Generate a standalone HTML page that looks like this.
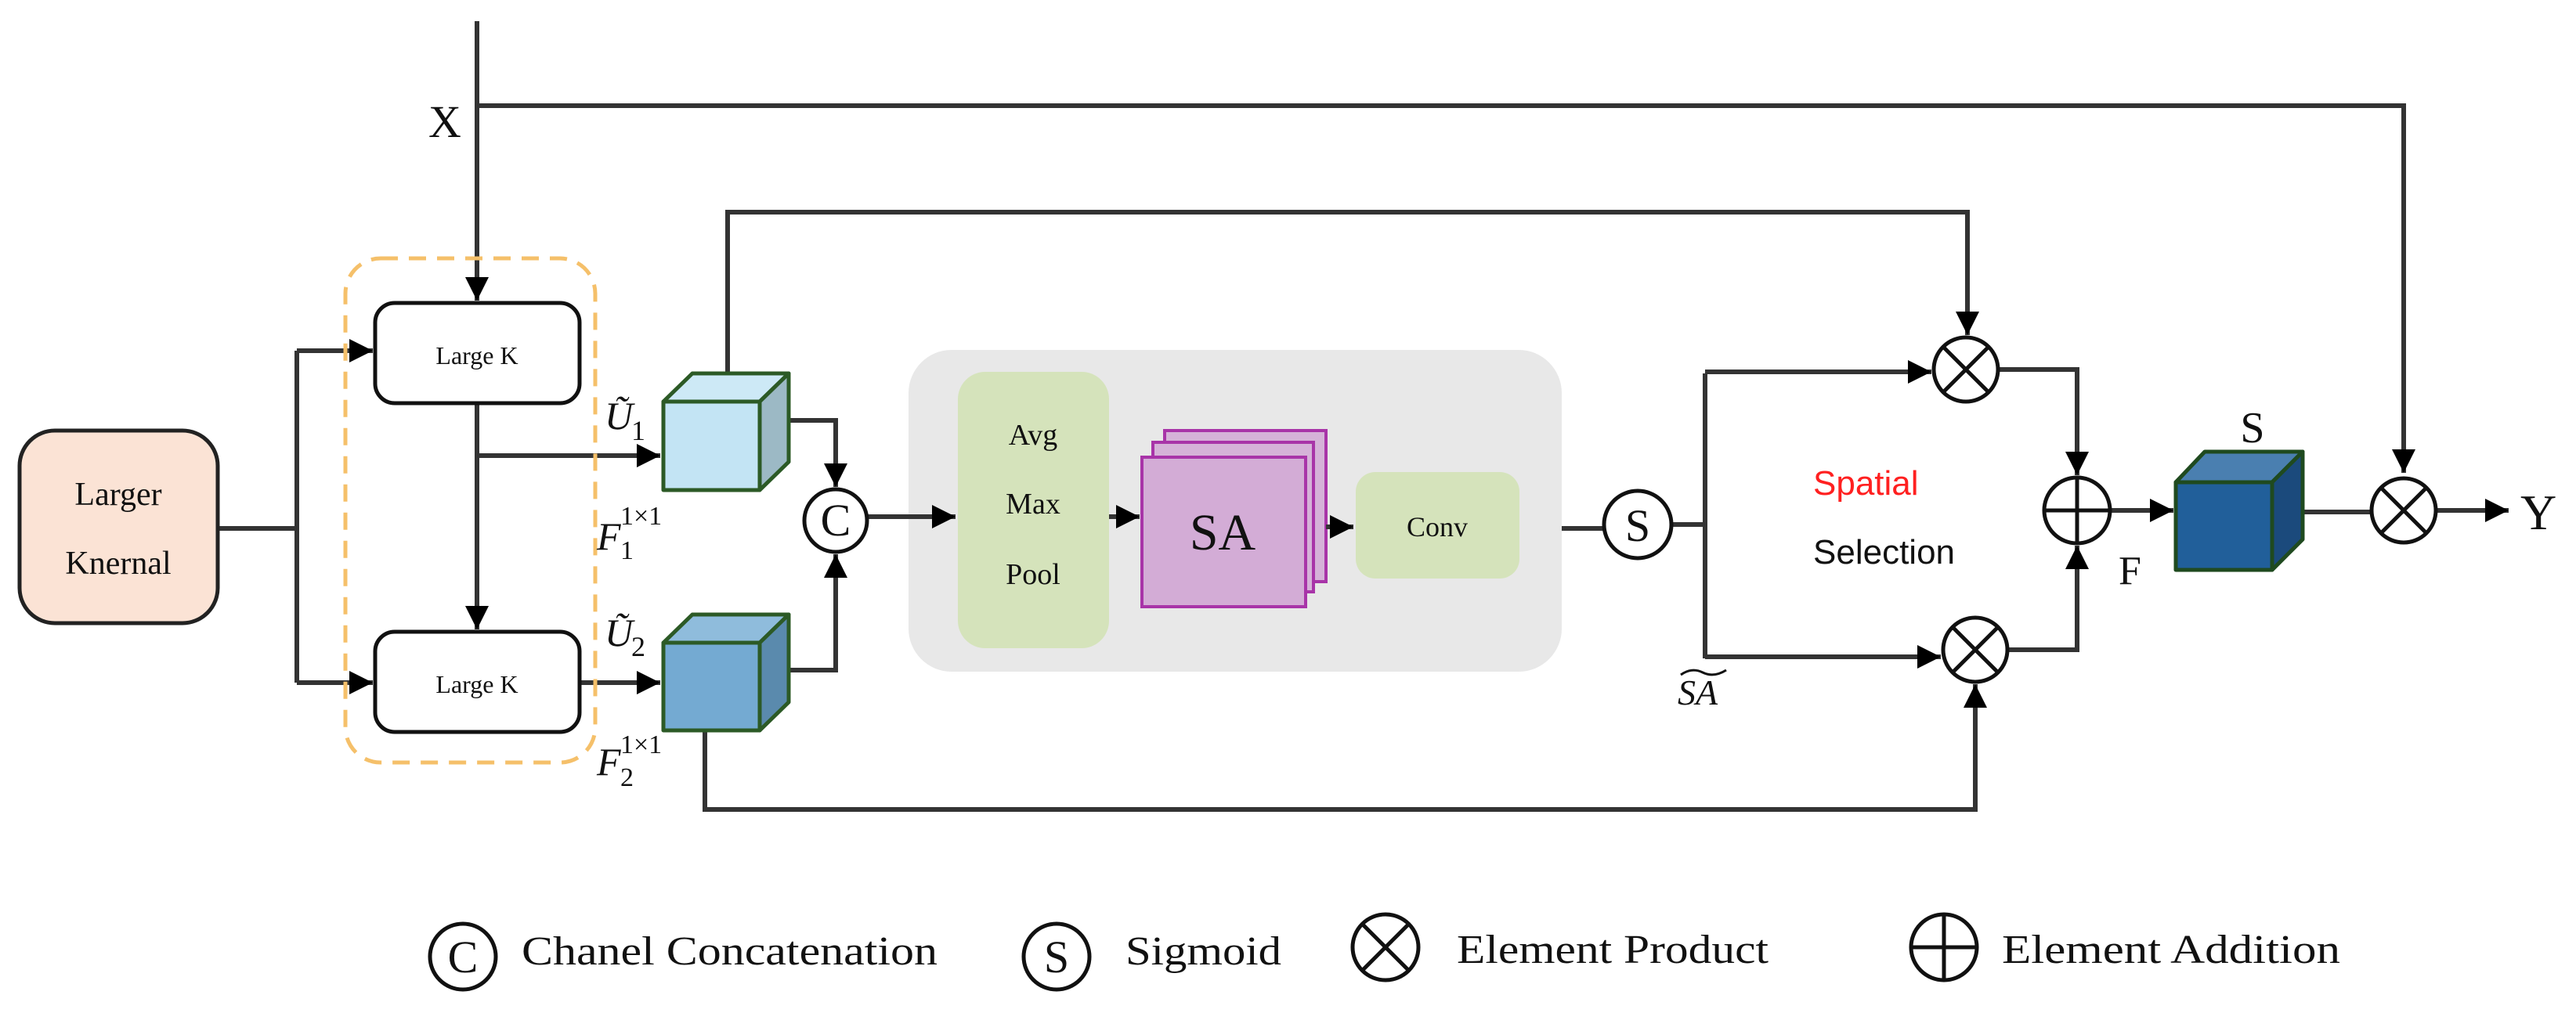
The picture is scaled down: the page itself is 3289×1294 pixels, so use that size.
<!DOCTYPE html>
<html><head><meta charset="utf-8"><style>
html,body{margin:0;padding:0;background:#fff;}
svg{display:block;}
.t{font-family:"Liberation Serif",serif;fill:#111;}
.s{font-family:"Liberation Sans",sans-serif;}
</style></head><body>
<svg width="3289" height="1294" viewBox="0 0 3289 1294" xmlns="http://www.w3.org/2000/svg">
<defs>
<marker id="a" viewBox="0 0 10 10" refX="10" refY="5" markerWidth="5" markerHeight="5" markerUnits="strokeWidth" orient="auto">
<path d="M0,0 L10,5 L0,10 z" fill="#000"/></marker>
</defs>
<g stroke="#333" stroke-width="6" fill="none">
<path d="M609,27 V384" marker-end="url(#a)"/>
<path d="M609,135 H3069 V604" marker-end="url(#a)"/>
<path d="M278,675 H379"/>
<path d="M379,448 V872"/>
<path d="M379,448 H476" marker-end="url(#a)"/>
<path d="M379,872 H476" marker-end="url(#a)"/>
<path d="M609,515 V804" marker-end="url(#a)"/>
<path d="M609,582 H843" marker-end="url(#a)"/>
<path d="M740,872 H843" marker-end="url(#a)"/>
<path d="M929,477 V271 H2512 V428" marker-end="url(#a)"/>
<path d="M1007,537 H1067 V622" marker-end="url(#a)"/>
<path d="M1007,856 H1067 V708" marker-end="url(#a)"/>
<path d="M900,933 V1034 H2522 V874" marker-end="url(#a)"/>
<path d="M1108,660 H1220" marker-end="url(#a)"/>
<path d="M1940,675 H2047"/>
<path d="M2135,670 H2177"/>
<path d="M2177,477 V841"/>
<path d="M2177,475 H2466" marker-end="url(#a)"/>
<path d="M2177,839 H2478" marker-end="url(#a)"/>
<path d="M2551,472 H2652 V607" marker-end="url(#a)"/>
<path d="M2563,830 H2652 V697" marker-end="url(#a)"/>
<path d="M2694,652 H2775" marker-end="url(#a)"/>
<path d="M2940,654 H3028"/>
<path d="M3110,652 H3203" marker-end="url(#a)"/>
</g>

<rect x="441" y="330" width="319" height="644" rx="45" fill="none" stroke="#f5c06a" stroke-width="5" stroke-dasharray="22,14"/>
<rect x="25" y="550" width="253" height="246" rx="45" fill="#fbe3d5" stroke="#222" stroke-width="5"/>
<text class="t" x="151" y="645" font-size="42" text-anchor="middle">Larger</text>
<text class="t" x="151" y="733" font-size="42" text-anchor="middle">Knernal</text>
<rect x="479" y="387" width="261" height="128" rx="25" fill="#fff" stroke="#111" stroke-width="5"/>
<text class="t" x="609" y="465" font-size="32" text-anchor="middle">Large K</text>
<rect x="479" y="807" width="261" height="128" rx="25" fill="#fff" stroke="#111" stroke-width="5"/>
<text class="t" x="609" y="885" font-size="32" text-anchor="middle">Large K</text>

<g stroke="#2c5a26" stroke-width="5" stroke-linejoin="round">
<polygon points="847,513 884,477 1007,477 970,513" fill="#cde9f6"/>
<polygon points="970,513 1007,477 1007,590 970,626" fill="#9cb9c5"/>
<rect x="847" y="513" width="123" height="113" fill="#c3e4f4"/>
</g>
<g stroke="#2c5a26" stroke-width="5" stroke-linejoin="round">
<polygon points="847,821 884,785 1007,785 970,821" fill="#8fbcdc"/>
<polygon points="970,821 1007,785 1007,897 970,933" fill="#5a8aad"/>
<rect x="847" y="821" width="123" height="112" fill="#74aad2"/>
</g>
<text class="t" x="772" y="548" font-size="50" font-style="italic">Ũ</text>
<text class="t" x="806" y="562" font-size="36">1</text>
<text class="t" x="762" y="702" font-size="50" font-style="italic">F</text>
<text class="t" x="792" y="670" font-size="34">1×1</text>
<text class="t" x="792" y="714" font-size="34">1</text>
<text class="t" x="772" y="825" font-size="50" font-style="italic">Ũ</text>
<text class="t" x="806" y="838" font-size="36">2</text>
<text class="t" x="762" y="990" font-size="50" font-style="italic">F</text>
<text class="t" x="792" y="962" font-size="34">1×1</text>
<text class="t" x="792" y="1004" font-size="34">2</text>
<text class="t" x="547" y="175" font-size="58">X</text>

<circle cx="1067" cy="665" r="40" fill="#fff" stroke="#111" stroke-width="5"/>
<text class="t" x="1067" y="684" font-size="58" text-anchor="middle">C</text>

<rect x="1160" y="447" width="834" height="411" rx="55" fill="#e8e8e8"/>
<rect x="1223" y="475" width="193" height="353" rx="35" fill="#d5e3bb"/>
<text class="t" x="1319" y="568" font-size="38" text-anchor="middle">Avg</text>
<text class="t" x="1319" y="656" font-size="38" text-anchor="middle">Max</text>
<text class="t" x="1319" y="746" font-size="38" text-anchor="middle">Pool</text>
<g stroke="#a834a8" stroke-width="4">
<rect x="1487" y="550" width="206" height="193" fill="#d5b2d8"/>
<rect x="1472" y="565" width="205" height="191" fill="#d5b2d8"/>
<rect x="1458" y="584" width="209" height="191" fill="#d3acd6"/>
</g>
<text class="t" x="1561" y="702" font-size="66" text-anchor="middle">SA</text>
<rect x="1731" y="603" width="209" height="136" rx="25" fill="#d5e3bb"/>
<text class="t" x="1835" y="685" font-size="36" text-anchor="middle">Conv</text>
<g stroke="#333" stroke-width="6" fill="none">
<path d="M1160,660 H1220" marker-end="url(#a)"/>
<path d="M1416,660 H1455" marker-end="url(#a)"/>
<path d="M1693,673 H1728" marker-end="url(#a)"/>
</g>

<circle cx="2091" cy="670" r="43" fill="#fff" stroke="#111" stroke-width="5"/>
<text class="t" x="2091" y="691" font-size="58" text-anchor="middle">S</text>
<text class="t" x="2142" y="900" font-size="46" font-style="italic">SA</text>
<path d="M2146,862 q14,-10 28,-3 t30,-3" stroke="#111" stroke-width="3" fill="none"/>

<text class="s" x="2315" y="632" font-size="44" fill="#ff2020">Spatial</text>
<text class="s" x="2315" y="720" font-size="44" fill="#111">Selection</text>

<g stroke="#111" stroke-width="5" fill="#fff">
<circle cx="2510" cy="472" r="41"/>
<path d="M2481,443 L2539,501 M2539,443 L2481,501"/>
<circle cx="2522" cy="830" r="41"/>
<path d="M2493,801 L2551,859 M2551,801 L2493,859"/>
<circle cx="2652" cy="652" r="42"/>
<path d="M2610,652 H2694 M2652,610 V694"/>
<circle cx="3069" cy="652" r="41"/>
<path d="M3040,623 L3098,681 M3098,623 L3040,681"/>
</g>
<text class="t" x="2705" y="746" font-size="52">F</text>

<g stroke="#1f4a1f" stroke-width="5" stroke-linejoin="round">
<polygon points="2778,616 2815,577 2940,577 2901,616" fill="#4a7fb0"/>
<polygon points="2901,616 2940,577 2940,689 2901,728" fill="#1b4a7c"/>
<rect x="2778" y="616" width="123" height="112" fill="#215f9a"/>
</g>
<text class="t" x="2876" y="565" font-size="56" text-anchor="middle">S</text>
<text class="t" x="3218" y="676" font-size="64">Y</text>

<g stroke="#111" stroke-width="5" fill="#fff">
<circle cx="591" cy="1222" r="42"/>
<circle cx="1349" cy="1222" r="42"/>
<circle cx="1769" cy="1210" r="42"/>
<path d="M1739,1180 L1799,1240 M1799,1180 L1739,1240"/>
<circle cx="2482" cy="1210" r="42"/>
<path d="M2440,1210 H2524 M2482,1168 V1252"/>
</g>
<text class="t" x="591" y="1242" font-size="58" text-anchor="middle">C</text>
<text class="t" x="1349" y="1242" font-size="58" text-anchor="middle">S</text>
<text class="t" x="666" y="1232" font-size="52" textLength="531" lengthAdjust="spacingAndGlyphs">Chanel Concatenation</text>
<text class="t" x="1437" y="1232" font-size="52" textLength="199" lengthAdjust="spacingAndGlyphs">Sigmoid</text>
<text class="t" x="1860" y="1230" font-size="52" textLength="398" lengthAdjust="spacingAndGlyphs">Element Product</text>
<text class="t" x="2556" y="1230" font-size="52" textLength="432" lengthAdjust="spacingAndGlyphs">Element Addition</text>
</svg>
</body></html>
